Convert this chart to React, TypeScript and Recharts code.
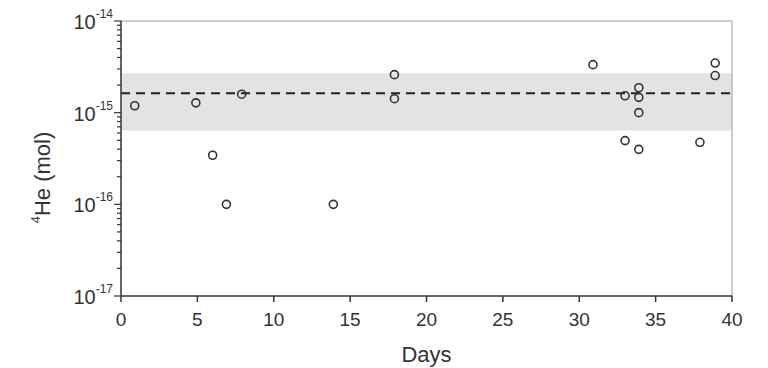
import React from 'react';
import { ScatterChart, Scatter, XAxis, YAxis, ReferenceArea, ReferenceLine, Label } from 'recharts';

const days = [0.9, 4.9, 6.0, 6.9, 7.9, 13.9, 17.9, 17.9, 30.9, 33.0, 33.0, 33.9, 33.9, 33.9, 33.9, 37.9, 38.9, 38.9];
const heMol = [1.19e-15, 1.28e-15, 3.43e-16, 1.0e-16, 1.59e-15, 1.0e-16, 2.6e-15, 1.42e-15, 3.34e-15, 1.53e-15, 4.96e-16, 1.87e-15, 1.47e-15, 1.0e-15, 3.98e-16, 4.75e-16, 3.48e-15, 2.54e-15];

const bandLow = 6.4e-16;
const bandHigh = 2.7e-15;
const meanHe = 1.63e-15;

const xTicks = [0, 5, 10, 15, 20, 25, 30, 35, 40];
const decades = [-17, -16, -15, -14];
const minorSteps = [2, 3, 4, 5, 6, 7, 8, 9];

const FONT = '"Liberation Sans", Arial, sans-serif';
const INK = '#333';

const yTicks: number[] = [];
decades.forEach((d, i) => {
    yTicks.push(Math.pow(10, d));
    if (i < decades.length - 1) {
        minorSteps.forEach(m => yTicks.push(m * Math.pow(10, d)));
    }
});

const data = days.map((d, i) => ({ day: d, he: heMol[i] }));

const YTick = (props: any) => {
    const { x, y, payload } = props;
    const exp = Math.log10(payload.value);
    const isMajor = Math.abs(exp - Math.round(exp)) < 1e-6;
    const len = isMajor ? 7 : 4;
    return (
        <g>
            <line x1={x} x2={x - len} y1={y} y2={y} stroke={INK} strokeWidth={1.2} />
            {isMajor && (
                <text x={x - 8} y={y} dy={8} textAnchor="end" fontFamily={FONT} fill={INK} fontSize={20}>
                    <tspan>10</tspan>
                    <tspan dy={-11} fontSize={12}>{`-${Math.abs(Math.round(exp))}`}</tspan>
                </text>
            )}
        </g>
    );
};

const YLabel = (props: any) => {
    const { viewBox } = props;
    const cx = viewBox.x + 34;
    const cy = viewBox.y + viewBox.height / 2 + 19;
    return (
        <text
            x={cx}
            y={cy}
            transform={`rotate(-90, ${cx}, ${cy})`}
            textAnchor="middle"
            dominantBaseline="central"
            fontFamily={FONT}
            fill={INK}
            fontSize={22}
        >
            <tspan fontSize={13} dy={-7}>4</tspan>
            <tspan dy={7}>He (mol)</tspan>
        </text>
    );
};

const OpenCircle = (props: any) => (
    <circle cx={props.cx} cy={props.cy} r={4} fill="none" stroke={INK} strokeWidth={1.6} />
);

export default function App() {
    return (
        <ScatterChart width={760} height={360} margin={{ top: 13, right: 36, left: 0, bottom: 4 }}>
            <XAxis
                type="number"
                dataKey="day"
                domain={[0, 40]}
                ticks={xTicks}
                allowDataOverflow
                height={68}
                stroke={INK}
                strokeWidth={1.5}
                tickSize={6}
                tickMargin={11}
                tick={{ fontSize: 19, fontFamily: FONT, fill: INK }}
            >
                <Label value="Days" position="insideBottom" offset={2} fontSize={22} fontFamily={FONT} fill={INK} />
            </XAxis>
            <YAxis
                type="number"
                dataKey="he"
                scale="log"
                domain={[1e-17, 1e-14]}
                ticks={yTicks}
                allowDataOverflow
                width={113}
                stroke={INK}
                strokeWidth={1.5}
                tickLine={false}
                tickSize={0}
                tickMargin={0}
                tick={<YTick />}
                interval={0}
            >
                <Label content={<YLabel />} position="insideLeft" />
            </YAxis>
            <ReferenceArea y1={bandLow} y2={bandHigh} fill="#e3e3e3" fillOpacity={1} stroke="none" />
            <ReferenceLine y={1e-14} stroke="#bbb" strokeWidth={1.5} />
            <ReferenceLine x={40} stroke="#bbb" strokeWidth={1.5} />
            <ReferenceLine y={meanHe} stroke="#222" strokeWidth={2} strokeDasharray="9 6" />
            <Scatter data={data} shape={<OpenCircle />} isAnimationActive={false} />
        </ScatterChart>
    );
}
